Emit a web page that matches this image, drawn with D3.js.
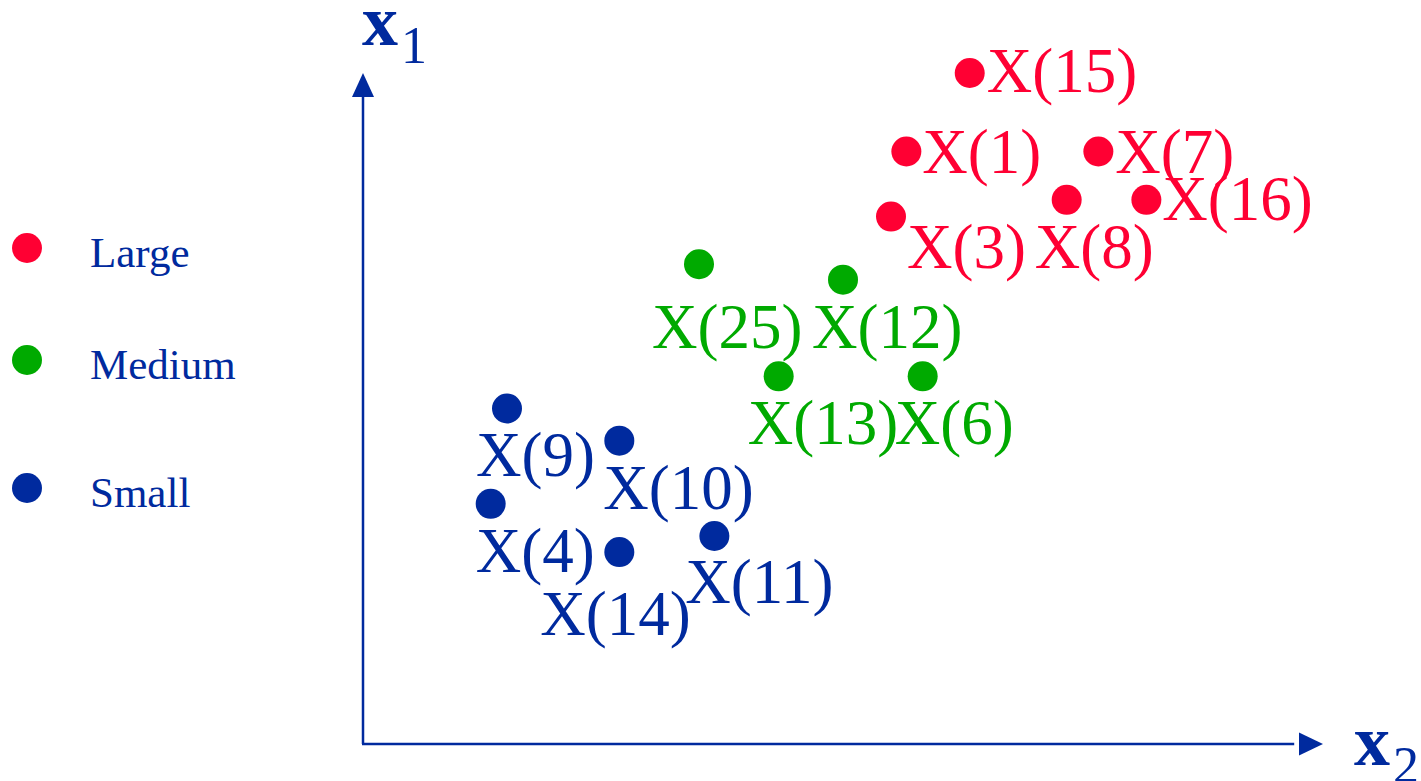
<!DOCTYPE html>
<html>
<head>
  <meta charset="utf-8" />
  <style>
    body { margin: 0; background: #fff; }
    svg { display: block; font-family: "Liberation Serif", "Times New Roman", serif; }
  </style>
</head>
<body>
<svg id="chart" width="1421" height="781"></svg>
<script src="https://cdn.jsdelivr.net/npm/d3@7"></script>
<script>
// point names, coordinates (x2 horizontal, x1 vertical) and size class
const names  = ['X(15)','X(1)','X(7)','X(3)','X(8)','X(16)','X(25)','X(12)','X(13)','X(6)','X(9)','X(10)','X(4)','X(14)','X(11)']
const x2vals = [6.32, 5.66, 7.66, 5.50, 7.33, 8.16, 3.50, 5.00, 4.33, 5.83, 1.50, 2.67, 1.33, 2.67, 3.66]
const x1vals = [10.0, 8.83, 8.83, 7.86, 8.11, 8.11, 7.15, 6.92, 5.48, 5.48, 5.00, 4.52, 3.58, 2.86, 3.10]
const groups = ['Large','Large','Large','Large','Large','Large','Medium','Medium','Medium','Medium','Small','Small','Small','Small','Small']

const categories = ['Large', 'Medium', 'Small']
const colours = ['#ff0033', '#00aa00', '#002a9e']

// where each label sits relative to its dot (text start, baseline)
const labelOffset = [[17,19],[16,21],[17,21],[16,51],[-32,68],[16,20],[-47,84],[-31,68],[-31,68],[-28,68],[-31,67],[-16,68],[-15,68],[-79,83],[-29,67]]

const svg = d3.select('#chart')
const blue = colours[2]

const x = d3.scaleLinear().domain([0, 10]).range([363, 1323])
const y = d3.scaleLinear().domain([0, 10]).range([744, 73])
const colour = d3.scaleOrdinal().domain(categories).range(colours)

// axes with arrow heads
svg.append('line')
  .attr('x1', x(0)).attr('y1', y(0)).attr('x2', x(0)).attr('y2', y(9.7))
  .attr('stroke', blue).attr('stroke-width', 2.5)
svg.append('line')
  .attr('x1', x(0) - 1).attr('y1', y(0)).attr('x2', x(9.7)).attr('y2', y(0))
  .attr('stroke', blue).attr('stroke-width', 2.5)
svg.append('path')
  .attr('d', `M${x(0)},${y(10)} L${x(0) - 11},${y(10) + 24} L${x(0) + 11},${y(10) + 24} Z`)
  .attr('fill', blue)
svg.append('path')
  .attr('d', `M${x(10)},${y(0)} L${x(10) - 24},${y(0) - 11.5} L${x(10) - 24},${y(0) + 11.5} Z`)
  .attr('fill', blue)

// axis titles x1 / x2
function axisTitle(px, py, sub) {
  const t = svg.append('text').attr('x', px).attr('y', py).attr('fill', blue)
  t.append('tspan').attr('font-size', 72).attr('font-weight', 'bold').text('x')
  t.append('tspan').attr('font-size', 52).attr('dy', 18).attr('dx', 3).text(sub)
}
axisTitle(362, 45, '1')
axisTitle(1354, 765, '2')

// legend
const legend = svg.append('g')
const legendY = [248, 360, 488]
categories.forEach((c, i) => {
  legend.append('circle').attr('cx', 27).attr('cy', legendY[i]).attr('r', 15).attr('fill', colour(c))
  legend.append('text').attr('x', 90).attr('y', legendY[i] + 19)
    .attr('font-size', 43).attr('fill', blue).text(c)
})

// points and labels
const pts = names.map((n, i) => ({ name: n, x2: x2vals[i], x1: x1vals[i], group: groups[i], off: labelOffset[i] }))

svg.append('g').selectAll('circle').data(pts).join('circle')
  .attr('cx', d => x(d.x2)).attr('cy', d => y(d.x1))
  .attr('r', 15).attr('fill', d => colour(d.group))

svg.append('g').selectAll('text').data(pts).join('text')
  .attr('x', d => x(d.x2) + d.off[0]).attr('y', d => y(d.x1) + d.off[1])
  .attr('font-size', 63).attr('fill', d => colour(d.group))
  .text(d => d.name)
</script>
</body>
</html>
